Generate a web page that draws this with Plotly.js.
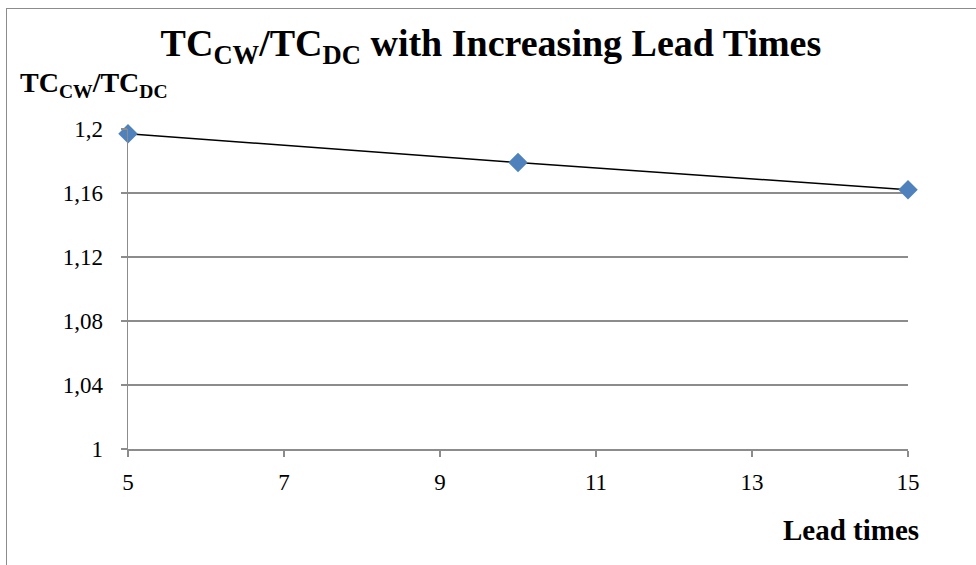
<!DOCTYPE html>
<html><head><meta charset="utf-8">
<script src="https://cdn.plot.ly/plotly-3.0.1.min.js"></script>
<style>
html,body{margin:0;padding:0;background:#fff;}
#wrap{position:relative;width:976px;height:565px;overflow:hidden;}
#chart{position:absolute;left:0;top:0;width:976px;height:565px;}
#frame{position:absolute;left:6px;top:8px;width:990px;height:600px;border:1px solid #8c8c8c;pointer-events:none;}
</style></head>
<body>
<div id="wrap"><div id="chart"></div><div id="frame"></div></div>
<script>
const leadTimes = [5, 10, 15];
const ratio = [1.197, 1.179, 1.162];
const xTicks = [5, 7, 9, 11, 13, 15];
const yTicks = [1, 1.04, 1.08, 1.12, 1.16, 1.2];

const serif = "Liberation Serif, DejaVu Serif, serif";

Plotly.newPlot('chart', [{
  x: leadTimes, y: ratio, type: 'scatter', mode: 'lines+markers',
  line: {color: '#000000', width: 1.5},
  marker: {symbol: 'diamond', size: 15, color: '#4F81BD'},
  cliponaxis: false,
  showlegend: false, hoverinfo: 'skip'
}], {
  width: 976, height: 565,
  margin: {l: 128, r: 68, t: 129, b: 116},
  paper_bgcolor: 'rgba(0,0,0,0)', plot_bgcolor: 'rgba(0,0,0,0)',
  separators: ',.',
  font: {family: serif, color: '#000', size: 22},
  title: {text: '<b>TC<sub>CW</sub>/TC<sub>DC</sub> with Increasing Lead Times</b>',
          font: {family: serif, size: 38, color: '#000'}, x: 0.503, xanchor: 'center',
          yref: 'container', y: 0.925, yanchor: 'middle'},
  xaxis: {range: [5, 15], tickvals: xTicks, ticktext: xTicks.map(String),
          showgrid: false, zeroline: false, showline: true, linecolor: '#8c8c8c', linewidth: 1.5,
          ticks: 'outside', ticklen: 6, tickcolor: '#8c8c8c', tickwidth: 1.5,
          tickfont: {family: serif, size: 23, color: '#000'}, ticklabelstandoff: 6},
  yaxis: {range: [1, 1.2], tickvals: yTicks,
          showgrid: true, gridcolor: '#8c8c8c', gridwidth: 1.5, zeroline: false,
          showline: true, linecolor: '#8c8c8c', linewidth: 1.5,
          ticks: 'outside', ticklen: 6, tickcolor: '#8c8c8c', tickwidth: 1.5,
          tickfont: {family: serif, size: 23, color: '#000'}, ticklabelstandoff: 13},
  annotations: [
    {text: '<b>TC<sub>CW</sub>/TC<sub>DC</sub></b>', xref: 'paper', yref: 'paper',
     x: -0.141, y: 1.14, xanchor: 'left', yanchor: 'middle', showarrow: false,
     font: {family: serif, size: 28, color: '#000'}},
    {text: '<b>Lead times</b>', xref: 'paper', yref: 'paper',
     x: 1.0167, y: -0.253, xanchor: 'right', yanchor: 'middle', showarrow: false,
     font: {family: serif, size: 29, color: '#000'}}
  ]
}, {staticPlot: true});
</script>
</body></html>
